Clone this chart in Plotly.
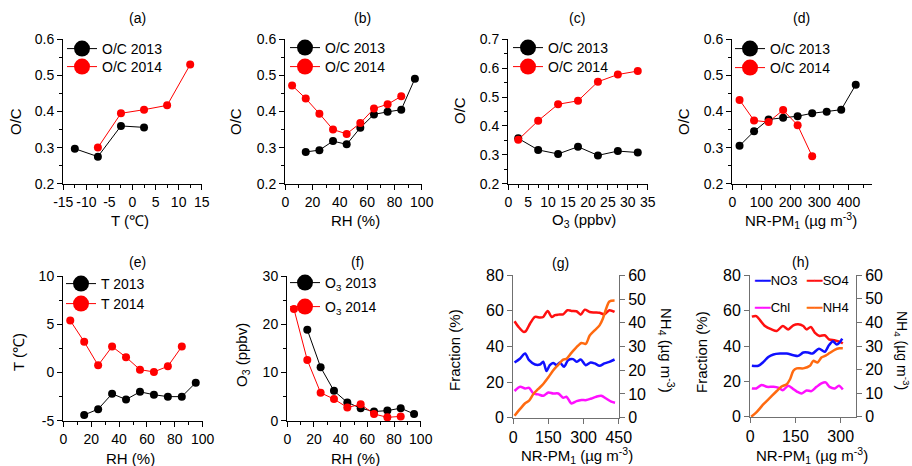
import plotly.graph_objects as go

W, H = 912, 466
FONT = "Liberation Sans, Arial, sans-serif"

# ---------------- data ----------------
# (a) O/C vs T
a_T13 = [-12.5, -7.5, -2.5, 2.5]
a_OC13 = [0.297, 0.275, 0.360, 0.356]
a_T14 = [-7.5, -2.5, 2.5, 7.5, 12.5]
a_OC14 = [0.300, 0.395, 0.405, 0.417, 0.530]

# (b) O/C vs RH
b_RH13 = [15, 25, 35, 45, 55, 65, 75, 85, 95]
b_OC13 = [0.288, 0.293, 0.318, 0.309, 0.355, 0.392, 0.399, 0.405, 0.491]
b_RH14 = [5, 15, 25, 35, 45, 55, 65, 75, 85]
b_OC14 = [0.472, 0.436, 0.394, 0.350, 0.338, 0.368, 0.408, 0.420, 0.442]

# (c) O/C vs O3
c_O3 = [2.5, 7.5, 12.5, 17.5, 22.5, 27.5, 32.5]
c_OC13 = [0.357, 0.317, 0.303, 0.328, 0.298, 0.313, 0.308]
c_OC14 = [0.352, 0.418, 0.475, 0.487, 0.553, 0.578, 0.590]

# (d) O/C vs NR-PM1
d_PM13 = [25, 75, 125, 175, 225, 275, 325, 375, 425]
d_OC13 = [0.305, 0.345, 0.378, 0.383, 0.387, 0.395, 0.399, 0.405, 0.474]
d_PM14 = [25, 75, 125, 175, 225, 275]
d_OC14 = [0.432, 0.375, 0.371, 0.404, 0.362, 0.276]

# (e) T vs RH
e_RH13 = [15, 25, 35, 45, 55, 65, 75, 85, 95]
e_T13 = [-4.4, -3.8, -2.2, -2.8, -2.0, -2.3, -2.5, -2.5, -1.05]
e_RH14 = [5, 15, 25, 35, 45, 55, 65, 75, 85]
e_T14 = [5.4, 3.2, 0.75, 2.7, 1.6, 0.3, 0.07, 0.65, 2.7]

# (f) O3 vs RH
f_RH13 = [15, 25, 35, 45, 55, 65, 75, 85, 95]
f_O313 = [18.9, 11.1, 6.2, 3.8, 2.6, 1.9, 2.1, 2.6, 1.4]
f_RH14 = [5, 15, 25, 35, 45, 55, 65, 75, 85]
f_O314 = [23.2, 12.6, 5.8, 4.5, 2.75, 3.4, 1.4, 0.7, 0.9]

# (g) fractions vs NR-PM1 (2013)
g_x_so4 = [5.6, 22.6, 43.7, 53.6, 71.9, 93, 114, 128, 147, 164, 178, 192, 213, 231, 248, 270, 288, 305, 326, 347, 368, 389, 410, 432]
g_so4 = [54.2, 51.0, 48.2, 48.6, 52.9, 56.6, 56.3, 56.6, 60.0, 56.6, 57.6, 57.9, 58.1, 60.4, 60.0, 59.8, 57.9, 60.7, 59.4, 59.1, 58.9, 58.1, 60.4, 59.4]
g_x_no3 = [5.6, 29.6, 50.8, 67.7, 93, 114, 128, 142, 156, 170, 185, 199, 217, 234, 255, 270, 288, 309, 330, 347, 368, 389, 410, 432]
g_no3 = [31.0, 33.3, 36.1, 32.3, 29.9, 29.9, 31.4, 26.2, 29.5, 30.8, 29.5, 31.0, 28.6, 32.3, 32.9, 31.4, 32.7, 29.5, 31.0, 30.5, 29.2, 30.5, 31.4, 32.7]
g_x_chl = [5.6, 29.6, 50.8, 67.7, 86, 107, 128, 150, 170, 192, 213, 227, 248, 270, 291, 312, 333, 354, 375, 396, 418, 434]
g_chl = [15.0, 17.4, 16.4, 16.8, 13.6, 13.1, 12.3, 14.2, 13.6, 13.6, 11.2, 11.8, 8.0, 9.3, 9.9, 9.9, 10.8, 11.8, 12.3, 10.8, 9.0, 8.4]
g_x_nh4 = [5.6, 29.6, 50.8, 67.7, 86, 107, 128, 150, 170, 192, 213, 227, 248, 270, 291, 309, 326, 347, 368, 382, 396, 410, 432]
g_nh4 = [0.8, 3.7, 6.1, 7.2, 10.0, 12.1, 14.2, 17.0, 19.9, 22.3, 24.5, 24.8, 27.3, 29.7, 31.5, 31.1, 34.6, 36.8, 38.9, 41.7, 45.9, 49.0, 49.4]

# (h) fractions vs NR-PM1 (2014)
h_x_so4 = [5.5, 20, 33, 49, 71, 88, 108, 126, 143, 159, 176, 187, 201, 214, 230, 247, 261, 280, 296, 307]
h_so4 = [56.6, 56.9, 54.5, 51.3, 49.4, 48.5, 51.3, 49.4, 51.7, 52.3, 51.3, 49.4, 50.8, 47.6, 45.7, 46.1, 43.8, 43.2, 42.5, 41.5]
h_x_no3 = [5.5, 27, 44, 60, 77, 99, 121, 143, 159, 176, 192, 206, 228, 247, 261, 274, 287, 296, 305]
h_no3 = [28.8, 28.8, 31.0, 33.8, 35.2, 35.7, 35.7, 34.8, 34.4, 36.3, 36.3, 35.7, 38.5, 36.7, 40.4, 42.7, 40.8, 41.9, 44.2]
h_x_chl = [5.5, 20, 38, 55, 77, 93, 108, 126, 143, 156, 170, 187, 203, 220, 236, 250, 263, 280, 294, 307]
h_chl = [16.0, 16.0, 17.9, 16.9, 16.9, 16.4, 15.0, 17.5, 15.6, 14.1, 13.2, 14.8, 14.5, 16.9, 18.8, 19.4, 16.9, 16.0, 17.5, 15.4]
h_x_nh4 = [3.3, 22, 44, 66, 88, 104, 121, 132, 143, 154, 176, 198, 209, 223, 236, 250, 263, 280, 296, 307]
h_nh4 = [0.0, 2.1, 5.3, 8.1, 10.9, 12.8, 13.8, 15.9, 19.5, 20.5, 20.5, 21.6, 23.7, 23.0, 25.1, 25.9, 27.0, 28.4, 29.0, 29.0]

# tick values
oc_ticks = [0.2, 0.3, 0.4, 0.5, 0.6]
oc_ticks_c = [0.2, 0.3, 0.4, 0.5, 0.6, 0.7]
t_ticks = [-15, -10, -5, 0, 5, 10, 15]
rh_ticks = [0, 20, 40, 60, 80, 100]
o3_ticks = [0, 5, 10, 15, 20, 25, 30, 35]
pm_ticks_d = [0, 100, 200, 300, 400]
te_ticks = [-5, 0, 5, 10]
o3f_ticks = [0, 10, 20, 30]
pm_ticks_g = [0, 150, 300, 450]
pm_ticks_h = [0, 150, 300]
frac_ticks = [0, 20, 40, 60, 80]
nh4_ticks = [0, 10, 20, 30, 40, 50, 60]

# ---------------- figure ----------------
fig = go.Figure()
BLACK, RED = "black", "#ff0000"
C_NO3, C_SO4, C_CHL, C_NH4 = "#1010ff", "#ff1010", "#ff10ff", "#ff6a10"


def pts(x, y, color, xa, ya):
    fig.add_trace(go.Scatter(x=x, y=y, mode="lines+markers", showlegend=False,
                             line=dict(color=color, width=1),
                             marker=dict(color=color, size=8),
                             xaxis=xa, yaxis=ya))


def smooth(x, y, color, xa, ya):
    fig.add_trace(go.Scatter(x=x, y=y, mode="lines", showlegend=False,
                             line=dict(color=color, width=2.5, shape="spline", smoothing=0.8),
                             xaxis=xa, yaxis=ya))


legends = {}
leg_n = [0]


def leg_item(name, color, xa, ya, px, py, fsize=14):
    leg_n[0] += 1
    key = "legend" if leg_n[0] == 1 else f"legend{leg_n[0]}"
    fig.add_trace(go.Scatter(x=[None], y=[None], mode="lines+markers", name=name,
                             line=dict(color=color, width=1),
                             marker=dict(color=color, size=16),
                             xaxis=xa, yaxis=ya, legend=key))
    legends[key] = dict(x=px / W, y=1 - py / H, xanchor="left", yanchor="middle",
                        bgcolor="rgba(0,0,0,0)", borderwidth=0,
                        font=dict(family=FONT, size=fsize, color="black"),
                        itemsizing="trace", itemwidth=30)


# (a)
pts(a_T13, a_OC13, BLACK, "x", "y")
pts(a_T14, a_OC14, RED, "x", "y")
leg_item("O/C 2013", BLACK, "x", "y", 62, 49)
leg_item("O/C 2014", RED, "x", "y", 62, 67)
# (b)
pts(b_RH13, b_OC13, BLACK, "x2", "y2")
pts(b_RH14, b_OC14, RED, "x2", "y2")
leg_item("O/C 2013", BLACK, "x2", "y2", 285, 48)
leg_item("O/C 2014", RED, "x2", "y2", 285, 67)
# (c)
pts(c_O3, c_OC13, BLACK, "x3", "y3")
pts(c_O3, c_OC14, RED, "x3", "y3")
leg_item("O/C 2013", BLACK, "x3", "y3", 508, 48)
leg_item("O/C 2014", RED, "x3", "y3", 508, 67)
# (d)
pts(d_PM13, d_OC13, BLACK, "x4", "y4")
pts(d_PM14, d_OC14, RED, "x4", "y4")
leg_item("O/C 2013", BLACK, "x4", "y4", 730, 49)
leg_item("O/C 2014", RED, "x4", "y4", 730, 68)
# (e)
pts(e_RH13, e_T13, BLACK, "x5", "y5")
pts(e_RH14, e_T14, RED, "x5", "y5")
leg_item("T 2013", BLACK, "x5", "y5", 61, 284)
leg_item("T 2014", RED, "x5", "y5", 61, 304)
# (f)
pts(f_RH13, f_O313, BLACK, "x6", "y6")
pts(f_RH14, f_O314, RED, "x6", "y6")
leg_item("O<sub>3</sub> 2013", BLACK, "x6", "y6", 285, 283)
leg_item("O<sub>3</sub> 2014", RED, "x6", "y6", 285, 307)
# (g)
smooth(g_x_so4, g_so4, C_SO4, "x7", "y7")
smooth(g_x_no3, g_no3, C_NO3, "x7", "y7")
smooth(g_x_chl, g_chl, C_CHL, "x7", "y7")
smooth(g_x_nh4, g_nh4, C_NH4, "x7", "y9")
# (h)
smooth(h_x_so4, h_so4, C_SO4, "x8", "y8")
smooth(h_x_no3, h_no3, C_NO3, "x8", "y8")
smooth(h_x_chl, h_chl, C_CHL, "x8", "y8")
smooth(h_x_nh4, h_nh4, C_NH4, "x8", "y10")


def xdom(a, b):
    return [a / W, b / W]


def ydom(top, bottom):
    return [1 - bottom / H, 1 - top / H]


def lab(v, fmt):
    return format(v, fmt).replace("−", "-")


def axis(dom, anchor, rng, tickvals, fmt="g", minor=None, size=14, color="black",
         side=None, overlaying=None):
    eps = (rng[1] - rng[0]) * 0.002
    d = dict(domain=dom, anchor=anchor, range=[rng[0] - eps, rng[1] + eps],
             tickmode="array", tickvals=tickvals, ticktext=[lab(v, fmt) for v in tickvals],
             tickangle=0, showline=True, automargin=False,
             linecolor=color, linewidth=1, ticks="outside", ticklen=5, tickwidth=1,
             tickcolor=color, showgrid=False, zeroline=False, fixedrange=True,
             tickfont=dict(family=FONT, size=size, color="black"))
    if minor:
        d["minor"] = dict(tickmode="linear", tick0=0, dtick=minor, ticks="outside",
                          ticklen=3, tickcolor=color, showgrid=False)
    if side:
        d["side"] = side
    if overlaying:
        d["overlaying"] = overlaying
    return d


GR = "#707070"
TOP1, BOT1 = 39, 184
TOP2, BOT2 = 276, 421
layout_axes = dict(
    xaxis=axis(xdom(63, 202), "y", [-15, 15], t_ticks, "g", 2.5),
    yaxis=axis(ydom(TOP1, BOT1), "x", [0.2, 0.6], oc_ticks, ".1f", 0.05),
    xaxis2=axis(xdom(285, 422), "y2", [0, 100], rh_ticks, "g", 10),
    yaxis2=axis(ydom(TOP1, BOT1), "x2", [0.2, 0.6], oc_ticks, ".1f", 0.05),
    xaxis3=axis(xdom(508, 648), "y3", [0, 35], o3_ticks, "g", 2.5),
    yaxis3=axis(ydom(TOP1, BOT1), "x3", [0.2, 0.7], oc_ticks_c, ".1f", 0.05),
    xaxis4=axis(xdom(732, 872), "y4", [0, 480], pm_ticks_d, "g", 50),
    yaxis4=axis(ydom(TOP1, BOT1), "x4", [0.2, 0.6], oc_ticks, ".1f", 0.05),
    xaxis5=axis(xdom(63, 203), "y5", [0, 100], rh_ticks, "g", 10),
    yaxis5=axis(ydom(TOP2, BOT2), "x5", [-5, 10], te_ticks, "g", 2.5),
    xaxis6=axis(xdom(287, 421), "y6", [0, 100], rh_ticks, "g", 10),
    yaxis6=axis(ydom(TOP2, BOT2), "x6", [0, 30], o3f_ticks, "g", 5),
    xaxis7=axis(xdom(513, 619), "y7", [0, 450], pm_ticks_g, "g", None, size=16, color=GR),
    yaxis7=axis(ydom(275, 418), "x7", [0, 80], frac_ticks, "g", None, size=16, color=GR),
    yaxis9=axis(ydom(275, 418), "x7", [0, 60], nh4_ticks, "g", None, size=16, color=GR,
                side="right", overlaying="y7"),
    xaxis8=axis(xdom(750, 856), "y8", [0, 350], pm_ticks_h, "g", None, size=16, color=GR),
    yaxis8=axis(ydom(275, 417), "x8", [0, 80], frac_ticks, "g", None, size=16, color=GR),
    yaxis10=axis(ydom(275, 417), "x8", [0, 60], nh4_ticks, "g", None, size=16, color=GR,
                 side="right", overlaying="y8"),
)

annots = []


def text(t, px, py, size=14, angle=0, xanchor="center"):
    annots.append(dict(text=t, x=px / W, y=1 - py / H, xref="paper", yref="paper",
                       showarrow=False, xanchor=xanchor, yanchor="middle", textangle=angle,
                       font=dict(family=FONT, size=size, color="black")))


# panel labels
for t, px, py in [("(a)", 137, 18), ("(b)", 362, 18), ("(c)", 577, 18), ("(d)", 801, 18),
                  ("(e)", 137, 262), ("(f)", 357, 262), ("(g)", 560, 263), ("(h)", 800, 262)]:
    text(t, px, py, 14)

PM_T = "NR-PM<sub>1</sub> (µg m<sup>-3</sup>)"
NH4_T = "NH<sub>4</sub> (µg m<sup>-3</sup>)"
# x-axis titles
text("T (℃)", 130, 220, 15)
text("RH (%)", 355, 220, 15)
text("O<sub>3</sub> (ppbv)", 584, 220, 15)
text(PM_T, 801, 220, 15)
text("RH (%)", 130, 458, 15)
text("RH (%)", 355, 458, 15)
text(PM_T, 577, 455, 15)
text(PM_T, 812, 455, 15)
# y-axis titles
text("O/C", 16, 122, 15, -90)
text("O/C", 236, 122, 15, -90)
text("O/C", 459, 111, 15, -90)
text("O/C", 684, 122, 15, -90)
text("T (℃)", 18, 352, 15, -90)
text("O<sub>3</sub> (ppbv)", 242, 355, 15, -90)
text("Fraction (%)", 454, 350, 15, -90)
text("Fraction (%)", 701, 352, 15, -90)
text(NH4_T, 667, 350, 15, 90)
text(NH4_T, 902, 350, 14, 90)

# legend of panel (h): colour key glyphs + labels
for name, col, px, py in [("NO3", C_NO3, 752, 280), ("SO4", C_SO4, 804, 280),
                          ("Chl", C_CHL, 752, 307), ("NH4", C_NH4, 804, 307)]:
    annots.append(dict(text=f'<span style="color:{col};font-family:DejaVu Sans">━━</span>{name}',
                       x=px / W, y=1 - py / H, xref="paper", yref="paper", showarrow=False,
                       xanchor="left", yanchor="middle",
                       font=dict(family=FONT, size=13, color="black")))

fig.update_layout(width=W, height=H, margin=dict(l=0, r=0, t=0, b=0, autoexpand=False),
                  paper_bgcolor="white", plot_bgcolor="white",
                  font=dict(family=FONT, color="black"),
                  annotations=annots, **layout_axes, **legends)

fig.write_html("out.html", config={"displayModeBar": False},
               post_script="document.body.style.margin='0';")
